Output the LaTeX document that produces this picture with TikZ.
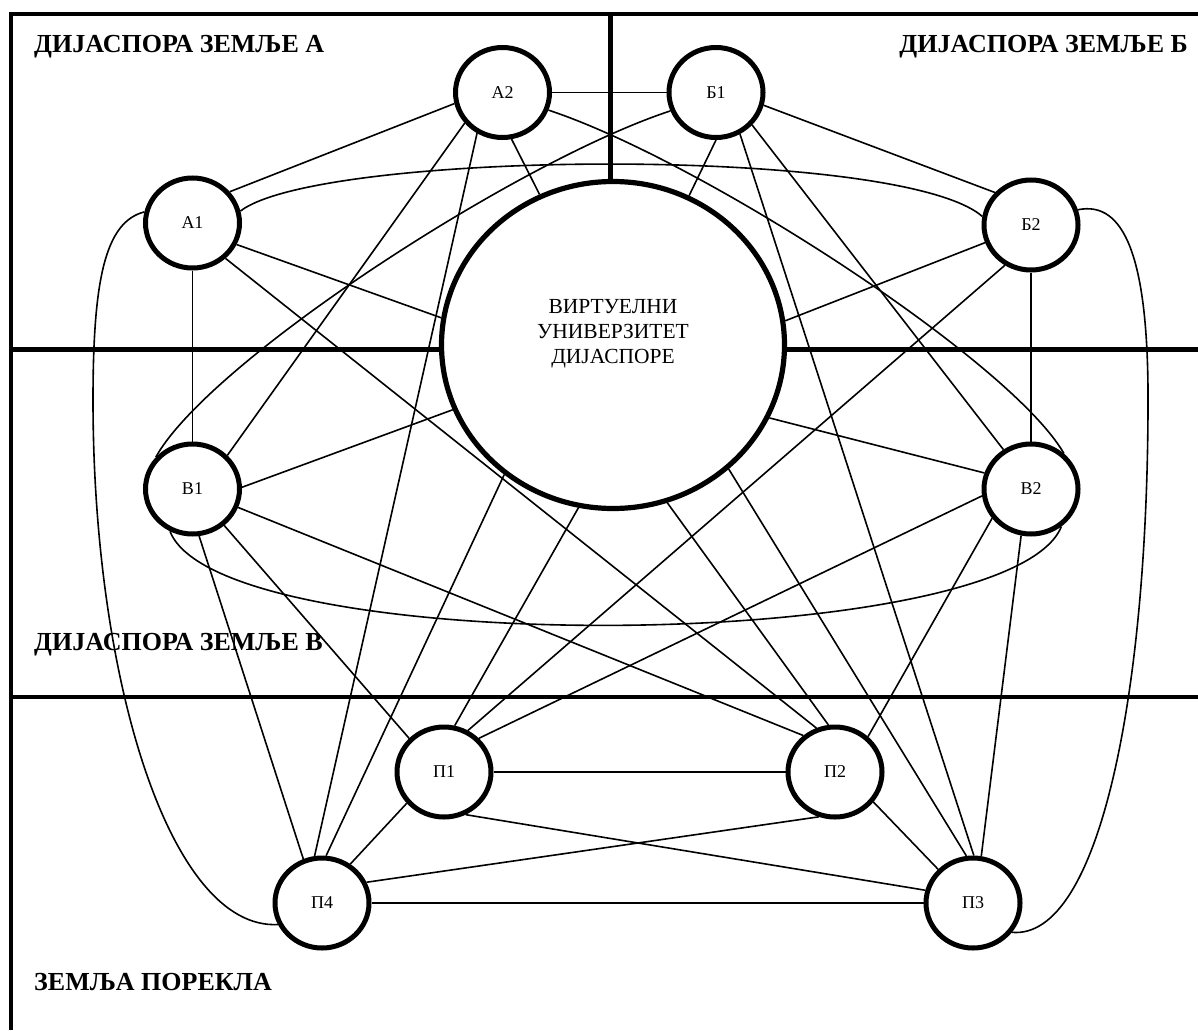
\documentclass[tikz,border=0pt]{standalone}
\usepackage{fontspec}
\setmainfont{Liberation Serif}
\usetikzlibrary{shapes.geometric}
\tikzset{
  smallnode/.style={ellipse, draw, line width=5pt, minimum width=94pt, minimum height=90pt, inner sep=0pt, font=\fontsize{18}{21}\selectfont},
  bignode/.style={ellipse, draw, line width=5.2pt, minimum width=343pt, minimum height=327pt, inner sep=0pt},
  conn/.style={line width=1.6pt},
  framel/.style={line width=4.8pt},
  titletext/.style={font=\bfseries\fontsize{26}{30}\selectfont, inner sep=0pt},
}
\begin{document}
\begin{tikzpicture}[x=1pt,y=-1pt]
\fill[white] (0,0) rectangle (1198,1030);
\useasboundingbox (0,0) rectangle (1198,1030);

% big circle
\node[bignode] (V) at (613,345) {};
\node[align=center, font=\fontsize{21.5}{25}\selectfont, inner sep=0pt] (Vt) at (613,334) {ВИРТУЕЛНИ\\УНИВЕРЗИТЕТ\\ДИЈАСПОРЕ};

% small circles
\node[smallnode] (A2) at (502.5,92.5) {А2};
\node[smallnode] (B1) at (716,92.5) {Б1};
\node[smallnode] (A1) at (192.5,223) {А1};
\node[smallnode] (B2) at (1031,225) {Б2};
\node[smallnode] (V1) at (192.5,489) {В1};
\node[smallnode] (V2) at (1031,489) {В2};
\node[smallnode] (P1) at (444,772) {П1};
\node[smallnode] (P2) at (835,772) {П2};
\node[smallnode] (P4) at (322,903) {П4};
\node[smallnode] (P3) at (973,903) {П3};

% titles
\node[titletext, anchor=base west] (tA) at (34,53) {ДИЈАСПОРА ЗЕМЉЕ А};
\node[titletext, anchor=base east] (tB) at (1188,53) {ДИЈАСПОРА ЗЕМЉЕ Б};
\node[titletext, anchor=base west] (tV) at (34,650) {ДИЈАСПОРА ЗЕМЉЕ В};
\node[titletext, anchor=base west] (tP) at (34,990) {ЗЕМЉА ПОРЕКЛА};

% frame and dividers
\draw[framel, line join=miter] (1198,14) -- (11,14) -- (11,1030);
\draw[framel] (610.3,14) -- (610.3,14 |- V.north);
\draw[framel] (11,349.5) -- (V.west |- 0,349.5);
\draw[framel] (V.east |- 0,349.5) -- (1198,349.5);
\draw[framel] (11,697) -- (1198,697);

% connectors
\draw[conn] (A2) -- (B1);
\draw[conn] (A2.193) -- (A1.40.4);
\draw[conn] (A2.219) -- (V1.44.1);
\draw[conn] (A2.238.5) -- (P4.99);
\draw[conn] (A2.281) -- (V.116.1);
\draw[conn] (A2.339) .. controls (700,160) and (1010,360) .. (V2.47.8);

\draw[conn] (A1.14.7) .. controls (320,150) and (900,145) .. (B2.170.8);
\draw[conn] (A1.167.8) .. controls (105,222) and (93,280) .. (93,400) .. controls (93,680) and (170,930) .. (P4.206);
\draw[conn] (A1.334.8) -- (V.171.8);
\draw[conn] (A1.313.3) -- (P2.113.3);
\draw[conn] (A1) -- (V1);

\draw[conn] (B1.202) .. controls (520,160) and (210,360) .. (V1.139.5);
\draw[conn] (V1.2.6) -- (V.202.4);
\draw[conn] (V1.338.4) -- (P2.131.6);
\draw[conn] (V1.311.1) -- (P1.136.1);
\draw[conn] (V1.278.6) -- (P4.113.6);
\draw[conn] (V1.242.2) .. controls (220,660) and (1010,655) .. (V2.309);

\draw[conn] (B1.270) -- (V.63.8);
\draw[conn] (B1.300.6) -- (P3.89);
\draw[conn] (B1.318.4) -- (V2.125.8);
\draw[conn] (B1.345.6) -- (B2.138.9);

\draw[conn] (B2.201) -- (V.8.2);
\draw[conn] (B2.237.4) -- (P1.60.6);
\draw[conn] (B2) -- (V2);
\draw[conn] (B2.18.9) .. controls (1125,200) and (1147,260) .. (1148,390) .. controls (1149,690) and (1100,940) .. (P3.323.4);

\draw[conn] (V2.161.8) -- (V.335.7);
\draw[conn] (V2.188.8) -- (P1.44.1);
\draw[conn] (V2.217.7) -- (P2.47.5);
\draw[conn] (V2.258.6) -- (P3.80);

\draw[conn] (V.258.9) -- (P1.77.2);
\draw[conn] (V.230.2) -- (P4.85);
\draw[conn] (V.289.4) -- (P2.98.8);
\draw[conn] (V.313) -- (P3.98.2);

\draw[conn] (P1) -- (P2);
\draw[conn] (P1.297.7) -- (P3.165.1);
\draw[conn] (P1.220.5) -- (P4.54.1);
\draw[conn] (P4.25) -- (P2.250.6);
\draw[conn] (P4) -- (P3);
\draw[conn] (P2.322.8) -- (P3.136.5);
\end{tikzpicture}
\end{document}
